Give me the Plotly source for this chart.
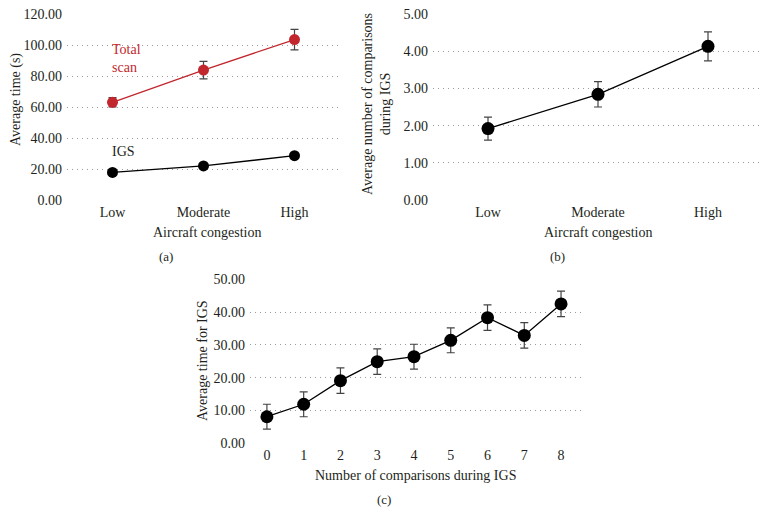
import plotly.graph_objects as go

W, H = 772, 526
OFF = 8  # page body margin
FW, FH = W - 2 * OFF, H - 2 * OFF

# ---- data ----
congestion = ["Low", "Moderate", "High"]
total_scan = [63.0, 83.8, 103.5]
total_scan_err = [3.0, 5.7, 6.6]
igs_time = [17.8, 22.0, 28.6]
igs_time_err = [0.8, 0.9, 1.0]

comparisons_mean = [1.92, 2.84, 4.13]
comparisons_err = [0.31, 0.34, 0.39]

n_comparisons = [0, 1, 2, 3, 4, 5, 6, 7, 8]
igs_by_comp = [8.1, 11.9, 19.1, 24.9, 26.4, 31.4, 38.3, 32.9, 42.5]
igs_by_comp_err = [3.8, 3.8, 3.9, 3.9, 3.8, 3.8, 3.9, 3.9, 3.9]

a_yticks = [0, 20, 40, 60, 80, 100, 120]
b_yticks = [0, 1, 2, 3, 4, 5]
c_yticks = [0, 10, 20, 30, 40, 50]

FONT = "'Liberation Serif', 'DejaVu Serif', serif"
TXT = "#231f20"
RED = "#c1272d"

def fx(x):
    return (x - OFF) / FW

def fy(y):
    return 1 - (y - OFF) / FH

def px_x(a, b):
    return [fx(a), fx(b)]

def px_y(top, bottom):
    return [fy(bottom), fy(top)]

fig = go.Figure()

err_style = dict(type="data", thickness=1.2, width=4, color="#444444")

# Panel (a)
fig.add_trace(go.Scatter(x=congestion, y=total_scan, mode="lines+markers",
                         line=dict(color=RED, width=1.3),
                         marker=dict(color=RED, size=11),
                         error_y=dict(array=total_scan_err, **err_style),
                         xaxis="x", yaxis="y", showlegend=False, cliponaxis=False))
fig.add_trace(go.Scatter(x=congestion, y=igs_time, mode="lines+markers",
                         line=dict(color="black", width=1.3),
                         marker=dict(color="black", size=11),
                         error_y=dict(array=igs_time_err, **err_style),
                         xaxis="x", yaxis="y", showlegend=False, cliponaxis=False))
# Panel (b)
fig.add_trace(go.Scatter(x=congestion, y=comparisons_mean, mode="lines+markers",
                         line=dict(color="black", width=1.3),
                         marker=dict(color="black", size=13),
                         error_y=dict(array=comparisons_err, **err_style),
                         xaxis="x2", yaxis="y2", showlegend=False, cliponaxis=False))
# Panel (c)
fig.add_trace(go.Scatter(x=n_comparisons, y=igs_by_comp, mode="lines+markers",
                         line=dict(color="black", width=1.3),
                         marker=dict(color="black", size=13),
                         error_y=dict(array=igs_by_comp_err, **err_style),
                         xaxis="x3", yaxis="y3", showlegend=False, cliponaxis=False))

grid = dict(showgrid=True, gridcolor="#9a9a9a", griddash="1px,4px", gridwidth=1,
            zeroline=False, showline=False, ticks="", automargin=False,
            ticklabeloverflow="allow", ticklabelstandoff=4,
            tickfont=dict(family=FONT, size=14, color=TXT))
xcommon = dict(showgrid=False, zeroline=False, showline=False, ticks="", automargin=False,
               ticklabeloverflow="allow", ticklabelstandoff=2,
               tickfont=dict(family=FONT, size=14, color=TXT))

fig.update_layout(
    width=FW, height=FH, margin=dict(l=0, r=0, t=0, b=0),
    paper_bgcolor="white", plot_bgcolor="white",
    font=dict(family=FONT, color=TXT, size=14),
    xaxis=dict(domain=px_x(67, 340), range=[-0.5, 2.5], type="category", anchor="y", **xcommon),
    yaxis=dict(domain=px_y(14, 200), range=[0, 120], tickvals=a_yticks,
               ticktext=[f"{v:.2f}" for v in a_yticks], anchor="x", **grid),
    xaxis2=dict(domain=px_x(433, 763), range=[-0.5, 2.5], type="category", anchor="y2", **xcommon),
    yaxis2=dict(domain=px_y(14, 200), range=[0, 5], tickvals=b_yticks,
                ticktext=[f"{v:.2f}" for v in b_yticks], anchor="x2", **grid),
    xaxis3=dict(domain=px_x(250, 582), range=[-0.46, 8.57], tickvals=n_comparisons,
                anchor="y3", **xcommon),
    yaxis3=dict(domain=px_y(279.3, 443.3), range=[0, 50], tickvals=c_yticks,
                ticktext=[f"{v:.2f}" for v in c_yticks], anchor="x3", **grid),
)

def ann(x, y, text, size=14, color=TXT, angle=0, xanchor="center", yanchor="middle", align="center"):
    fig.add_annotation(x=fx(x), y=fy(y), xref="paper", yref="paper", text=text,
                       showarrow=False, textangle=angle, xanchor=xanchor, yanchor=yanchor,
                       align=align, font=dict(family=FONT, size=size, color=color))

# axis titles & labels
ann(16, 100, "Average time (s)", angle=-90)
ann(207, 232, "Aircraft congestion")
ann(166, 256, "(a)", size=13)
ann(110, 59, "Total<br>scan", color=RED, xanchor="left", align="left")
ann(110, 151, "IGS", xanchor="left")

ann(376, 104, "Average number of comparisons<br>during IGS", angle=-90)
ann(598, 232, "Aircraft congestion")
ann(557, 256, "(b)", size=13)

ann(202, 361, "Average time for IGS", angle=-90)
ann(415, 475, "Number of comparisons during IGS")
ann(384, 499, "(c)", size=13)

fig.write_html("out.html")
